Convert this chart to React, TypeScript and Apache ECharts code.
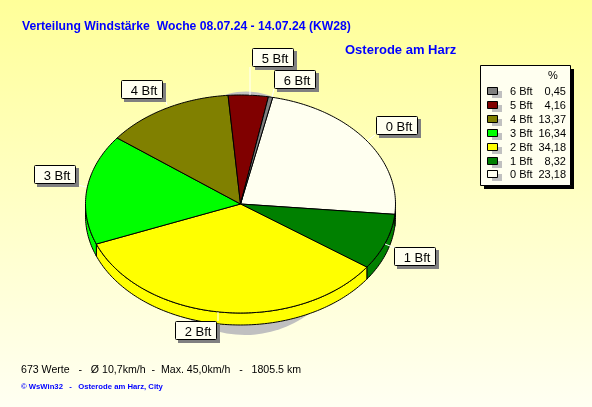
import React, { useEffect, useRef } from "react";
import * as echarts from "echarts";

const categories = ["0 Bft", "1 Bft", "2 Bft", "3 Bft", "4 Bft", "5 Bft", "6 Bft"];
const percents = [23.18, 8.32, 34.18, 16.34, 13.37, 4.16, 0.45];
const percentLabels = ["23,18", "8,32", "34,18", "16,34", "13,37", "4,16", "0,45"];
const colors = ["#FFFFF0", "#008000", "#FFFF00", "#00FF00", "#808000", "#800000", "#808080"];
const titleText = "Verteilung Windstärke  Woche 08.07.24 - 14.07.24 (KW28)";
const stationText = "Osterode am Harz";
const statsText = "673 Werte   -   Ø 10,7km/h  -  Max. 45,0km/h   -   1805.5 km";
const creditText = "© WsWin32   -   Osterode am Harz, City";

// layout only
const CX = 240.5, CY = 204, RX = 155, RY = 109, DEPTH = 12, START_DEG = 12;
const labelBoxes: Record<string, [number, number]> = {
  "0 Bft": [376, 116], "1 Bft": [394, 247], "2 Bft": [175, 321], "3 Bft": [34, 165],
  "4 Bft": [121, 80], "5 Bft": [252, 48], "6 Bft": [274, 70],
};
const leaders: number[][] = [
  [375, 135, 367, 141], [385, 244, 395, 248], [218, 312, 218, 321], [78, 185, 86, 187],
  [165, 99, 167, 105], [250, 67, 250, 95], [274, 89, 272, 97],
];
const UI_FONT = "Liberation Sans";

const pt = (deg: number, dy = 0): number[] => {
  const a = (deg * Math.PI) / 180;
  return [CX + RX * Math.sin(a), CY - RY * Math.cos(a) + dy];
};

function renderSlice(params: any, api: any) {
  const i = params.dataIndex;
  const share = api.value(0) as number;
  let before = 0;
  for (let k = 0; k < i; k++) before += percents[k];
  const a0 = START_DEG + (before / 100) * 360;
  const a1 = a0 + (share / 100) * 360;
  const children: any[] = [];
  const style = { fill: colors[i], stroke: "#000", lineWidth: 1 };
  const top: number[][] = [[CX, CY]];
  const n = Math.max(2, Math.ceil(a1 - a0));
  for (let s = 0; s <= n; s++) top.push(pt(a0 + ((a1 - a0) * s) / n));
  // front wall
  const w0 = Math.max(a0, 90), w1 = Math.min(a1, 270);
  if (w1 > w0) {
    const m = Math.max(2, Math.ceil(w1 - w0));
    const up: number[][] = [], down: number[][] = [];
    for (let s = 0; s <= m; s++) {
      const d = w0 + ((w1 - w0) * s) / m;
      up.push(pt(d));
      down.push(pt(d, DEPTH));
    }
    children.push({ type: "polygon", shape: { points: [...up, ...down.reverse()] }, style });
  }
  children.push({ type: "polygon", shape: { points: top }, style });
  return { type: "group", children };
}

export default function App() {
  const ref = useRef<HTMLDivElement>(null);
  useEffect(() => {
    const chart = echarts.init(ref.current!, undefined, { renderer: "svg" });
    const labelGraphics: any[] = [];
    categories.forEach((c, i) => {
      const [x, y] = labelBoxes[c];
      const l = leaders[i];
      labelGraphics.push({ type: "line", z: 5, shape: { x1: l[0], y1: l[1], x2: l[2], y2: l[3] }, style: { stroke: "#fff", lineWidth: 1 } });
      labelGraphics.push({ type: "rect", z: 6, shape: { x: x + 3, y: y + 3, width: 42, height: 19 }, style: { fill: "#808080" } });
      labelGraphics.push({ type: "rect", z: 7, shape: { x: x + 0.5, y: y + 0.5, width: 41, height: 18, r: 1 }, style: { fill: "#FFFFF0", stroke: "#000", lineWidth: 1 } });
      labelGraphics.push({ type: "text", z: 8, x: x + 23, y: y + 10, style: { text: c, font: `13px '${UI_FONT}'`, fill: "#000", align: "center", verticalAlign: "middle" } });
    });
    const legendGraphics: any[] = [
      { type: "rect", z: 5, shape: { x: 484, y: 69, width: 90, height: 120 }, style: { fill: "#000" } },
      { type: "rect", z: 6, shape: { x: 480.5, y: 65.5, width: 90, height: 120 }, style: { fill: "#FFFFF0", stroke: "#000", lineWidth: 1 } },
      { type: "text", z: 8, x: 553, y: 75, style: { text: "%", font: `11px '${UI_FONT}'`, fill: "#000", align: "center", verticalAlign: "middle" } },
    ];
    for (let i = 6; i >= 0; i--) {
      const row = 6 - i;
      const y = 91 + row * 13.9;
      const sy = Math.round(y) - 3.5;
      legendGraphics.push({ type: "rect", z: 7, shape: { x: 492, y: sy + 3.5, width: 10, height: 7 }, style: { fill: "#C0C0C0" } });
      legendGraphics.push({ type: "rect", z: 8, shape: { x: 487.5, y: sy, width: 10, height: 7 }, style: { fill: colors[i], stroke: "#000", lineWidth: 1 } });
      legendGraphics.push({ type: "text", z: 8, x: 510, y, style: { text: categories[i], font: `11px '${UI_FONT}'`, fill: "#000", align: "left", verticalAlign: "middle" } });
      legendGraphics.push({ type: "text", z: 8, x: 566, y, style: { text: percentLabels[i], font: `11px '${UI_FONT}'`, fill: "#000", align: "right", verticalAlign: "middle" } });
    }
    chart.setOption({
      animation: false,
      graphic: [
        {
          type: "rect", z: -10, shape: { x: 0, y: 0, width: 592, height: 407 },
          style: { fill: new echarts.graphic.LinearGradient(0, 0, 0, 1, [{ offset: 0, color: "#FFFF99" }, { offset: 1, color: "#FFFFF2" }]) },
        },
        { type: "ellipse", z: -5, shape: { cx: 245, cy: 226, rx: 108, ry: 109 }, style: { fill: "#C0C0C0" } },
        { type: "ellipse", z: -5, shape: { cx: 246, cy: 201, rx: 86, ry: 109.5 }, style: { fill: "#C0C0C0" } },
        { type: "text", z: 8, x: 22, y: 26, style: { text: titleText, font: `bold 12.2px '${UI_FONT}'`, fill: "#0000FF", align: "left", verticalAlign: "middle" } },
        { type: "text", z: 8, x: 345, y: 49, style: { text: stationText, font: `bold 13px '${UI_FONT}'`, fill: "#0000FF", align: "left", verticalAlign: "middle" } },
        { type: "text", z: 8, x: 21, y: 369, style: { text: statsText, font: `10.6px '${UI_FONT}'`, fill: "#000", align: "left", verticalAlign: "middle" } },
        { type: "text", z: 8, x: 21, y: 386, style: { text: creditText, font: `bold 7.7px '${UI_FONT}'`, fill: "#0000FF", align: "left", verticalAlign: "middle" } },
        ...labelGraphics,
        ...legendGraphics,
      ],
      series: [
        {
          type: "custom",
          coordinateSystem: "none",
          z: 2,
          silent: true,
          renderItem: renderSlice,
          data: percents.map((p, i) => ({ name: categories[i], value: [p] })),
        },
      ],
    });
    return () => chart.dispose();
  }, []);
  return (
    <div style={{ position: "fixed", left: 0, top: 0, width: 592, height: 407 }}>
      <div ref={ref} style={{ width: 592, height: 407 }} />
    </div>
  );
}
